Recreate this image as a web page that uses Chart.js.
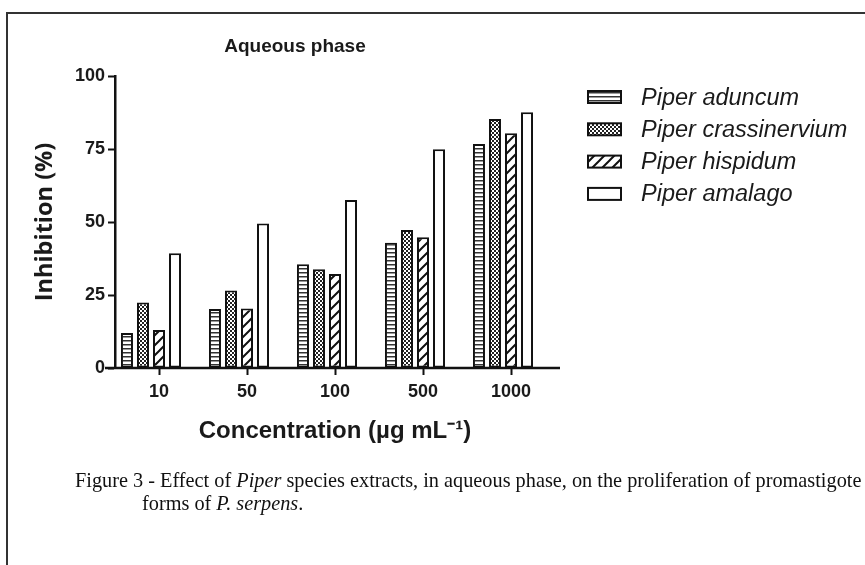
<!DOCTYPE html>
<html>
<head>
<meta charset="utf-8">
<script src="https://cdn.jsdelivr.net/npm/chart.js@4.4.1/dist/chart.umd.min.js"></script>
<style>
html, body { margin: 0; padding: 0; background: #fff; }
#fig { position: relative; width: 865px; height: 565px; overflow: hidden; }
#marco { position: absolute; left: 6px; top: 12px; width: 900px; height: 600px; border-top: 2px solid #333; border-left: 2px solid #333; }
#grafico { position: absolute; left: 0; top: 0; }
#pie { position: absolute; left: 75px; top: 469px; font-family: "Liberation Serif", "Times New Roman", serif; font-size: 20.3px; line-height: 23px; color: #111; white-space: nowrap; }
</style>
</head>
<body>
<div id="fig">
  <div id="marco"></div>
  <canvas id="grafico" width="865" height="565"></canvas>
  <div id="pie">Figure 3 - Effect of <i>Piper</i> species extracts, in aqueous phase, on the proliferation of promastigote<br><span style="padding-left:67px">forms of <i>P. serpens</i>.</span></div>
</div>
<script>
// ==========================================
// Datos
// ==========================================
const concentraciones = ['10', '50', '100', '500', '1000'];
const especies = ['Piper aduncum', 'Piper crassinervium', 'Piper hispidum', 'Piper amalago'];

const aduncum       = [12.0, 20.2, 35.5, 42.9, 76.7];
const crassinervium = [22.4, 26.5, 33.8, 47.3, 85.3];
const hispidum      = [13.0, 20.4, 32.2, 44.8, 80.4];
const amalago       = [39.3, 49.5, 57.5, 74.9, 87.6];

const ticksY = [0, 25, 50, 75, 100];

// ==========================================
// Patrones de relleno (estilo GraphPad)
// ==========================================
function crearPatron(w, h, dibujar) {
    const c = document.createElement('canvas');
    c.width = w; c.height = h;
    const g = c.getContext('2d');
    g.fillStyle = '#ffffff';
    g.fillRect(0, 0, w, h);
    dibujar(g);
    return g.createPattern(c, 'repeat');
}

// rayas horizontales
const patronRayas = crearPatron(4, 4, g => {
    g.fillStyle = '#333';
    g.fillRect(0, 0, 4, 1);
    g.fillStyle = '#999';
    g.fillRect(0, 1, 4, 1);
});

// punteado / damero
const patronPuntos = crearPatron(4, 4, g => {
    g.fillStyle = '#222';
    g.fillRect(0, 0, 2, 2);
    g.fillRect(2, 2, 2, 2);
});

// diagonales "/"
const patronDiagonal = crearPatron(10, 10, g => {
    g.strokeStyle = '#111';
    g.lineWidth = 2;
    g.beginPath();
    g.moveTo(-2, 12); g.lineTo(12, -2);
    g.moveTo(-2, 2); g.lineTo(2, -2);
    g.moveTo(8, 12); g.lineTo(12, 8);
    g.stroke();
});

const rellenos = [patronRayas, patronPuntos, patronDiagonal, '#ffffff'];
const series = [aduncum, crassinervium, hispidum, amalago];

const datasets = series.map((valores, i) => ({
    label: especies[i],
    data: valores,
    backgroundColor: rellenos[i],
    borderColor: '#111',
    borderWidth: 2,
    borderSkipped: false
}));

// hueco vacío al final de cada grupo (GraphPad deja la marca bajo la 3ª barra)
datasets.push({ label: '', data: concentraciones.map(() => null), backgroundColor: 'transparent', borderWidth: 0 });

// ==========================================
// Plugin: título, leyenda y eje X prolongado
// ==========================================
const extrasPlugin = {
    id: 'extrasPiper',
    afterDraw(chart) {
        const ctx = chart.ctx;
        const area = chart.chartArea;
        ctx.save();

        // título
        ctx.font = 'bold 19px Arial';
        ctx.fillStyle = '#1a1a1a';
        ctx.textAlign = 'center';
        ctx.textBaseline = 'middle';
        ctx.fillText('Aqueous phase', 295, 47);

        // leyenda a la derecha
        chart.data.datasets.forEach((ds, i) => {
            if (!ds.label) return;
            const y = 97 + i * 32.3;
            ctx.fillStyle = ds.backgroundColor;
            ctx.fillRect(588, y - 6, 33, 12);
            ctx.lineWidth = 2;
            ctx.strokeStyle = '#111';
            ctx.strokeRect(588, y - 6, 33, 12);
            ctx.fillStyle = '#1a1a1a';
            ctx.font = 'italic 23.5px Arial';
            ctx.textAlign = 'left';
            ctx.fillText(ds.label, 641, y + 1);
        });

        // eje X (sobresale a la izquierda del eje Y)
        const y0 = chart.scales.y.getPixelForValue(0);
        ctx.beginPath();
        ctx.moveTo(area.left - 10, y0);
        ctx.lineTo(area.right + 5, y0);
        ctx.lineWidth = 2.5;
        ctx.strokeStyle = '#111';
        ctx.stroke();
        ctx.restore();
    }
};

const fuenteEje = { family: 'Arial', weight: 'bold', size: 18 };

new Chart(document.getElementById('grafico'), {
    type: 'bar',
    data: { labels: concentraciones, datasets: datasets },
    options: {
        responsive: false,
        animation: false,
        categoryPercentage: 0.91,
        barPercentage: 0.75,
        layout: { padding: { left: 0, top: 76, right: 310, bottom: 117 } },
        plugins: {
            legend: { display: false },
            tooltip: { enabled: false }
        },
        scales: {
            x: {
                offset: true,
                border: { display: false },
                grid: { drawOnChartArea: false, offset: false, tickLength: 7, tickWidth: 2, tickColor: '#111' },
                ticks: { font: fuenteEje, color: '#1a1a1a', padding: 6, maxRotation: 0 },
                title: {
                    display: true,
                    text: 'Concentration (µg mL⁻¹)',
                    font: { family: 'Arial', weight: 'bold', size: 24 },
                    color: '#1a1a1a',
                    padding: { top: 0, bottom: 2 }
                },
                afterFit(s) { s.height = 80; }
            },
            y: {
                min: 0,
                max: 100,
                afterBuildTicks(s) { s.ticks = ticksY.map(v => ({ value: v })); },
                border: { display: true, color: '#111', width: 2.5 },
                grid: { drawOnChartArea: false, tickLength: 7, tickWidth: 2, tickColor: '#111' },
                ticks: { font: fuenteEje, color: '#1a1a1a', padding: 3 },
                title: {
                    display: true,
                    text: 'Inhibition (%)',
                    font: { family: 'Open Sans', weight: 'bold', size: 23.5 },
                    color: '#1a1a1a',
                    padding: { top: 31, bottom: 0 }
                },
                afterFit(s) { s.width = 115; }
            }
        }
    },
    plugins: [extrasPlugin]
});
</script>
</body>
</html>
